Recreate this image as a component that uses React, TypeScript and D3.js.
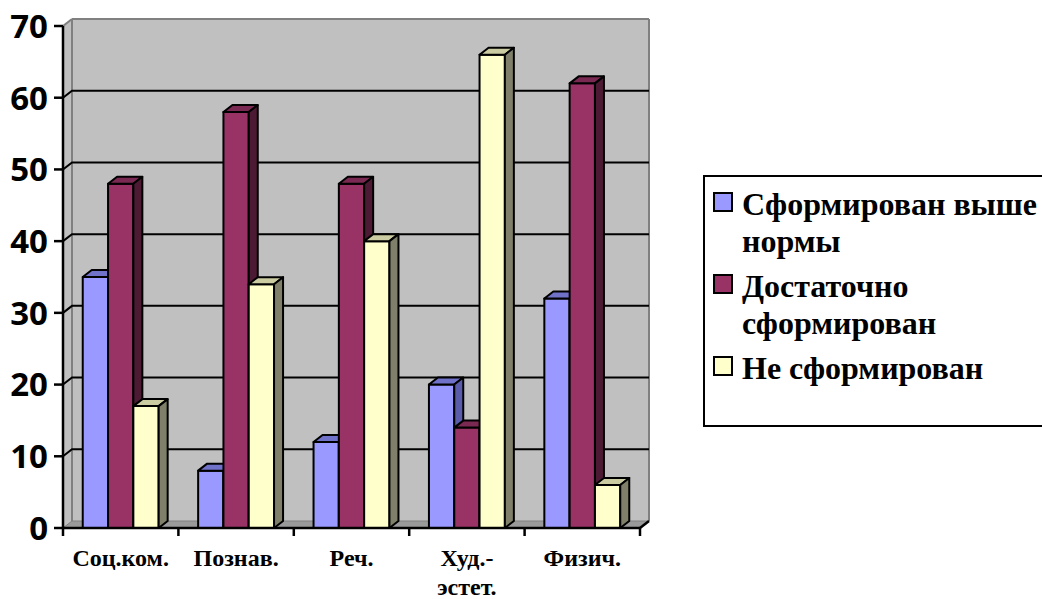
import React from "react";
import * as d3 from "d3";

const categories = ["Соц.ком.", "Познав.", "Реч.", "Худ.-\nэстет.", "Физич."];
const seriesNames = ["Сформирован выше\nнормы", "Достаточно\nсформирован", "Не сформирован"];
const aboveNorm = [35, 8, 12, 20, 32];
const enough = [48, 58, 48, 14, 62];
const notFormed = [17, 34, 40, 66, 6];
const yTicks = [0, 10, 20, 30, 40, 50, 60, 70];

const series = [aboveNorm, enough, notFormed];
const fronts = ["#9999ff", "#993366", "#ffffcc"];
const tops = ["#6f72c8", "#7a2952", "#cccca3"];
const sides = ["#5a5cab", "#4d1a33", "#80806a"];

const W = 1042;
const H = 599;
const DX = 9;
const DY = -7;

const serifStyle = { fontFamily: "Liberation Serif", fontWeight: 700 };
const sansStyle = { fontFamily: "Open Sans", fontWeight: 700 };

export default function App() {
  const x0 = 63;
  const x1 = 640;
  const y = d3.scaleLinear().domain([0, 70]).range([528, 26]);
  const x = d3.scaleBand<number>().domain(d3.range(categories.length)).range([x0, x1]);
  const xs = d3
    .scaleBand<number>()
    .domain(d3.range(series.length))
    .range([0, x.bandwidth()])
    .paddingInner(0)
    .paddingOuter(0.78);

  const bw = xs.bandwidth();
  const base = y(0);
  const topY = y(70);

  const bars: React.ReactNode[] = [];
  categories.forEach((_, ci) => {
    series.forEach((vals, si) => {
      const bx = (x(ci) as number) + (xs(si) as number);
      const by = y(vals[ci]);
      bars.push(
        <g key={`${ci}-${si}`} stroke="#000" strokeWidth={2} strokeLinejoin="round">
          <rect x={bx} y={by} width={bw} height={base - by} fill={fronts[si]} />
          <polygon
            points={`${bx},${by} ${bx + bw},${by} ${bx + bw + DX},${by + DY} ${bx + DX},${by + DY}`}
            fill={tops[si]}
          />
          <polygon
            points={`${bx + bw},${by} ${bx + bw + DX},${by + DY} ${bx + bw + DX},${base + DY} ${bx + bw},${base}`}
            fill={sides[si]}
          />
        </g>
      );
    });
  });

  return (
    <svg
      width={W}
      height={H}
      style={{ position: "absolute", left: 0, top: 0, background: "#fff" }}
    >
      {/* back wall */}
      <rect x={x0 + DX} y={topY + DY} width={x1 - x0} height={base - topY} fill="#c0c0c0" />
      {/* left wall */}
      <polygon
        points={`${x0},${base} ${x0 + DX},${base + DY} ${x0 + DX},${topY + DY} ${x0},${topY}`}
        fill="#c0c0c0"
      />
      {/* floor */}
      <polygon
        points={`${x0},${base} ${x1},${base} ${x1 + DX},${base + DY} ${x0 + DX},${base + DY}`}
        fill="#9a9a9a"
        stroke="#808080"
        strokeWidth={1}
      />
      {/* wall edges */}
      <g stroke="#808080" strokeWidth={2} fill="none">
        <line x1={x0 + DX} y1={topY + DY} x2={x1 + DX} y2={topY + DY} />
        <line x1={x1 + DX} y1={topY + DY} x2={x1 + DX} y2={base + DY} />
        <line x1={x0 + DX} y1={topY + DY} x2={x0 + DX} y2={base + DY} />
        <line x1={x0} y1={topY} x2={x0 + DX} y2={topY + DY} />
      </g>
      {/* gridlines */}
      <g stroke="#000" strokeWidth={2} fill="none">
        {yTicks
          .filter((t) => t > 0 && t < 70)
          .map((t) => (
            <polyline
              key={t}
              points={`${x0},${y(t)} ${x0 + DX},${y(t) + DY} ${x1 + DX},${y(t) + DY}`}
            />
          ))}
      </g>
      {bars}
      {/* axes */}
      <g stroke="#000" strokeWidth={2.5} fill="none">
        <line x1={x0} y1={topY} x2={x0} y2={base} />
        <line x1={x0} y1={base} x2={x1} y2={base} />
        <line x1={x1} y1={base} x2={x1 + DX} y2={base + DY} />
        {yTicks.map((t) => (
          <line key={t} x1={x0 - 9} y1={y(t)} x2={x0} y2={y(t)} />
        ))}
        {d3.range(categories.length + 1).map((i) => {
          const tx = x0 + i * x.step();
          return <line key={i} x1={tx} y1={base} x2={tx} y2={base + 8} />;
        })}
      </g>
      {/* y labels */}
      {yTicks.map((t) => (
        <text
          key={t}
          x={48}
          y={y(t)}
          dy="0.36em"
          textAnchor="end"
          style={{ ...sansStyle, fontSize: 33 }}
        >
          {t}
        </text>
      ))}
      {/* x labels */}
      {categories.map((c, i) => {
        const cx = (x(i) as number) + x.bandwidth() / 2;
        return (
          <text key={i} x={cx} y={566} textAnchor="middle" style={{ ...serifStyle, fontSize: 24 }}>
            {c.split("\n").map((line, li) => (
              <tspan key={li} x={cx} dy={li === 0 ? 0 : 29}>
                {line}
              </tspan>
            ))}
          </text>
        );
      })}
      {/* legend */}
      <rect x={704} y={176} width={360} height={250} fill="#fff" stroke="#000" strokeWidth={2} />
      {seriesNames.map((name, i) => {
        const by = 215 + i * 82;
        return (
          <g key={i}>
            <rect x={714} y={by - 22} width={18} height={18} fill={fronts[i]} stroke="#000" strokeWidth={2} />
            <text x={742} y={by} style={{ ...serifStyle, fontSize: 32 }}>
              {name.split("\n").map((line, li) => (
                <tspan key={li} x={742} dy={li === 0 ? 0 : 37}>
                  {line}
                </tspan>
              ))}
            </text>
          </g>
        );
      })}
    </svg>
  );
}
